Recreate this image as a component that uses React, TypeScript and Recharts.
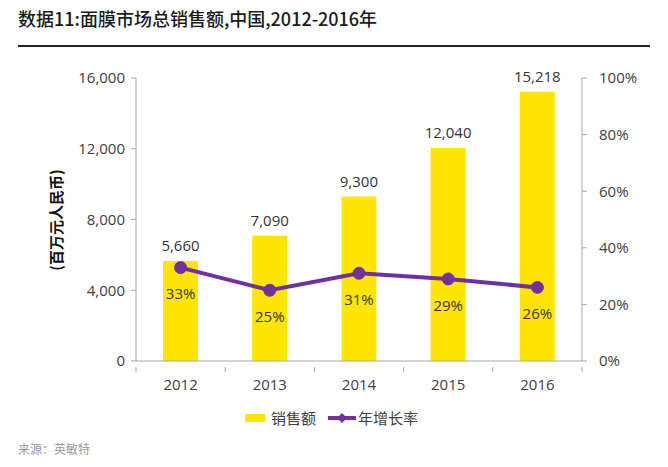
import React from 'react';
import { ComposedChart, Bar, Line, XAxis, YAxis, LabelList } from 'recharts';

const years = ['2012', '2013', '2014', '2015', '2016'];
const sales = [5660, 7090, 9300, 12040, 15218];
const growth = [0.33, 0.25, 0.31, 0.29, 0.26];
const leftTicks = [0, 4000, 8000, 12000, 16000];
const rightTicks = [0, 0.2, 0.4, 0.6, 0.8, 1];

const data = years.map((y, i) => ({ year: y, sales: sales[i], growth: growth[i] }));

const YELLOW = '#FFE600';
const PURPLE = '#7030A0';
const TXT = '#404040';
const AXIS = '#A6A6A6';
const NUMFONT = '"Open Sans", "Noto Sans CJK SC", sans-serif';
const CJK = '"Noto Sans CJK SC", sans-serif';

const fmtNum = (v: number) => v.toLocaleString('en-US');
const fmtPct = (v: number) => `${Math.round(v * 100)}%`;

const XTick = (props: any) => {
  const { x, y, payload, index, visibleTicksCount } = props;
  const half = payload && payload.offset ? payload.offset : 44.6;
  const axisY = y - 12;
  const last = index === (visibleTicksCount ?? years.length) - 1;
  return (
    <g>
      <line x1={x - half} y1={axisY} x2={x - half} y2={axisY + 5} stroke={AXIS} />
      {last && <line x1={x + half} y1={axisY} x2={x + half} y2={axisY + 5} stroke={AXIS} />}
      <text x={x} y={y} dy="0.71em" textAnchor="middle" fill={TXT} fontSize={15} fontFamily={NUMFONT}>
        {payload.value}
      </text>
    </g>
  );
};

export default function App() {
  return (
    <div style={{ position: 'absolute', left: 0, top: 0, width: 668, height: 467, background: '#fff', fontFamily: CJK }}>
      <div style={{ position: 'absolute', left: 18, top: 5, fontSize: 18, fontWeight: 500, color: '#1a1a1a', whiteSpace: 'nowrap' }}>
        数据11:面膜市场总销售额,中国,2012-2016年
      </div>
      <div style={{ position: 'absolute', left: 18, top: 45, width: 632, height: 2, background: '#222' }} />
      <ComposedChart width={668} height={467} data={data} margin={{ top: 78, right: 6, bottom: 76, left: 56 }}>
        <XAxis
          dataKey="year"
          tickLine={false}
          axisLine={{ stroke: AXIS }}
          tick={<XTick />}
          tickMargin={12}
          height={30}
        />
        <YAxis
          yAxisId="left"
          orientation="left"
          domain={[0, 16000]}
          ticks={leftTicks}
          tickFormatter={fmtNum}
          tickSize={5}
          tickMargin={6}
          axisLine={{ stroke: AXIS }}
          tickLine={{ stroke: AXIS }}
          tick={{ fill: TXT, fontSize: 15, fontFamily: NUMFONT }}
          width={80}
          interval={0}
        />
        <YAxis
          yAxisId="right"
          orientation="right"
          domain={[0, 1]}
          ticks={rightTicks}
          tickFormatter={fmtPct}
          tickSize={5}
          tickMargin={12}
          axisLine={{ stroke: AXIS }}
          tickLine={{ stroke: AXIS }}
          tick={{ fill: TXT, fontSize: 15, fontFamily: NUMFONT }}
          width={80}
          interval={0}
        />
        <Bar yAxisId="left" dataKey="sales" fill={YELLOW} barSize={35} isAnimationActive={false}>
          <LabelList dataKey="sales" position="top" offset={10} formatter={(v: any) => fmtNum(Number(v))} style={{ fill: '#333', fontSize: 15, fontFamily: NUMFONT }} />
        </Bar>
        <Line
          yAxisId="right"
          dataKey="growth"
          stroke={PURPLE}
          strokeWidth={4}
          dot={{ r: 6, fill: PURPLE, stroke: PURPLE, strokeWidth: 1 }}
          isAnimationActive={false}
        >
          <LabelList dataKey="growth" position="bottom" offset={21} formatter={(v: any) => fmtPct(Number(v))} style={{ fill: '#333', fontSize: 15, fontFamily: NUMFONT }} />
        </Line>
      </ComposedChart>
      <div style={{ position: 'absolute', left: 55, top: 220, transform: 'translate(-50%, -50%) rotate(-90deg)', fontSize: 15, fontWeight: 700, color: '#111', whiteSpace: 'nowrap' }}>
        (百万元人民币)
      </div>
      <div style={{ position: 'absolute', left: 245, top: 407, display: 'flex', alignItems: 'center', fontSize: 15, color: TXT, whiteSpace: 'nowrap' }}>
        <span style={{ display: 'inline-block', width: 20, height: 8, background: YELLOW, marginRight: 6 }} />
        <span style={{ marginRight: 12 }}>销售额</span>
        <svg width={28} height={12} style={{ marginRight: 2 }}>
          <line x1={0} y1={6} x2={28} y2={6} stroke={PURPLE} strokeWidth={4} />
          <polygon points="14,1 19,6 14,11 9,6" fill={PURPLE} />
        </svg>
        <span>年增长率</span>
      </div>
      <div style={{ position: 'absolute', left: 18, top: 440, fontSize: 12, color: '#999', whiteSpace: 'nowrap' }}>
        来源：英敏特
      </div>
    </div>
  );
}
